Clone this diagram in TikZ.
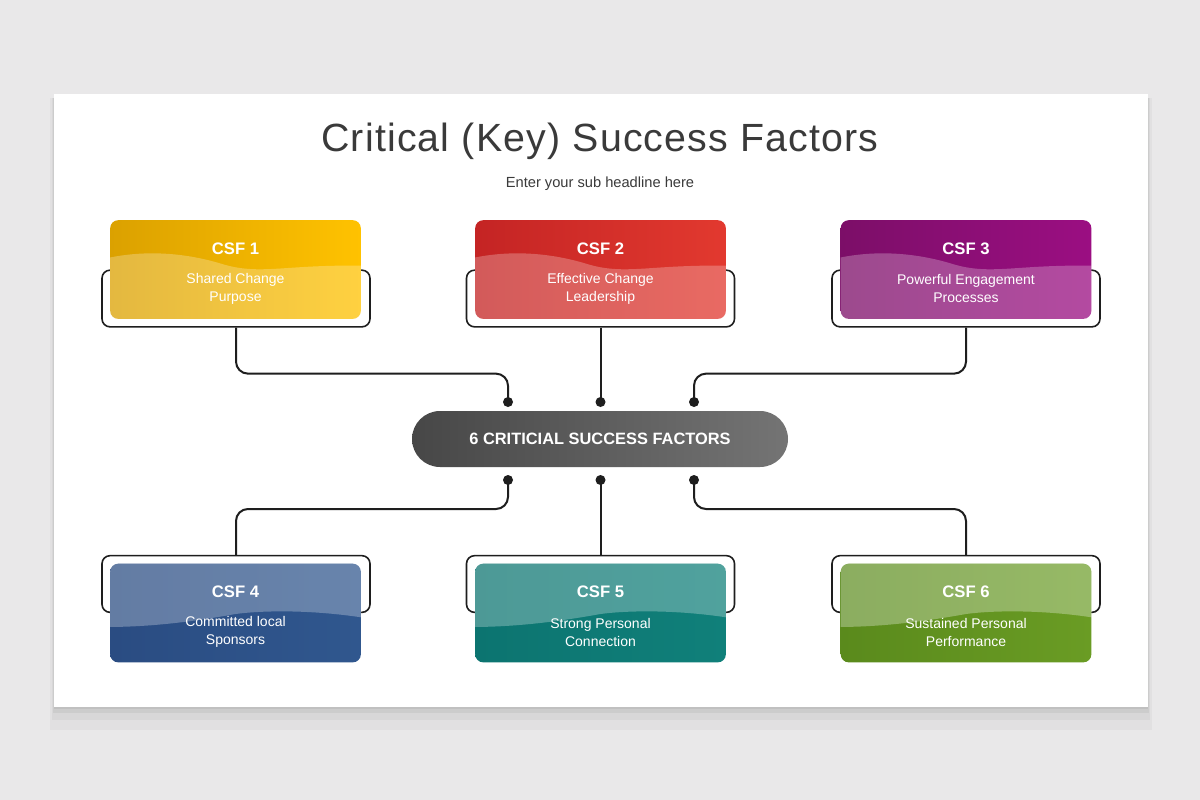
\documentclass[tikz,border=0pt]{standalone}
\usepackage{fontspec}
\setmainfont{Liberation Sans}
\usetikzlibrary{calc}

\definecolor{pagebg}{HTML}{E9E8E9}
\definecolor{ink}{HTML}{3A3A3A}
\definecolor{linkgray}{HTML}{1E1E1E}
\definecolor{gold1}{HTML}{DBA100}
\definecolor{gold2}{HTML}{FFC200}
\definecolor{red1}{HTML}{C42424}
\definecolor{red2}{HTML}{E2392F}
\definecolor{plum1}{HTML}{7C0E68}
\definecolor{plum2}{HTML}{9B0E82}
\definecolor{navy1}{HTML}{2A4C82}
\definecolor{navy2}{HTML}{30578E}
\definecolor{teal1}{HTML}{0C7470}
\definecolor{teal2}{HTML}{10807A}
\definecolor{olive1}{HTML}{5A8A1C}
\definecolor{olive2}{HTML}{6A9C24}
\definecolor{hub1}{HTML}{474747}
\definecolor{hub2}{HTML}{747474}

\tikzset{every picture/.style={line width=0.75pt},
  csfbox/.style={rectangle, rounded corners=6pt, minimum width=188pt, minimum height=74pt, inner sep=0pt},
  bracketbox/.style={draw=linkgray, line width=1.2pt, rounded corners=6pt, minimum width=201pt, minimum height=42.5pt, inner sep=0pt},
  csftitle/.style={text=white, font=\bfseries\fontsize{12.5}{15}\selectfont},
  csftext/.style={text=white, align=center, font=\fontsize{10.5}{13.5}\selectfont},
  hubpill/.style={rectangle, rounded corners=21pt, minimum width=282pt, minimum height=42pt, inner sep=0pt,
    left color=hub1, right color=hub2, text=white, font=\bfseries\fontsize{12.3}{15}\selectfont},
  pin/.style={circle, fill=linkgray, inner sep=0pt, minimum size=7.5pt},
  link/.style={draw=linkgray, line width=1.5pt, rounded corners=9pt},
  % light wave on the lower half (top row); pic y runs upward
  wavetop/.pic={
    \clip[rounded corners=6pt] (-125.5,-49.5) rectangle (125.5,49.5);
    \fill[white, fill opacity=#1] (-130,11) .. controls (-95,19) and (-55,18) .. (-15,6) .. controls (10,-2) and (30,0) .. (60,2) .. controls (90,4) and (110,4) .. (130,4) -- (130,-55) -- (-130,-55) -- cycle;
  },
  % light wave on the upper half (bottom row)
  wavebot/.pic={
    \clip[rounded corners=6pt] (-125.5,-49.5) rectangle (125.5,49.5);
    \fill[white, fill opacity=#1] (-130,-14) .. controls (-90,-14) and (-50,-10) .. (0,-1) .. controls (30,3) and (80,3) .. (130,-5) -- (130,55) -- (-130,55) -- cycle;
  }
}

\begin{document}
\begin{tikzpicture}[x=0.75pt,y=0.75pt,yscale=-1,xscale=1]
\useasboundingbox (0,0) rectangle (1200,800);

%Shape: Background
\fill[pagebg] (0,0) rectangle (1200,800);
%Shape: Slide shadow
\fill[black, opacity=0.03] (50,98) rectangle (1152,730);
\fill[black, opacity=0.04] (52,98) rectangle (1150,720);
\fill[black, opacity=0.05] (53,98) rectangle (1149,713);
\fill[black, opacity=0.06] (54,98) rectangle (1148,709);
%Shape: Slide
\fill[white] (54,94) rectangle (1148,707);

%Text: headline
\node[text=ink, font=\fontsize{29.5}{34}\selectfont\addfontfeatures{LetterSpace=3}] (head) at (600,141) {Critical (Key) Success Factors};
\node[text=ink, font=\fontsize{11}{13}\selectfont] (subhead) at (600,184) {Enter your sub headline here};

%Shape: Brackets
\node[bracketbox] (b1) at (236,298.5) {};
\node[bracketbox] (b2) at (600.5,298.5) {};
\node[bracketbox] (b3) at (966,298.5) {};
\node[bracketbox] (b4) at (236,584) {};
\node[bracketbox] (b5) at (600.5,584) {};
\node[bracketbox] (b6) at (966,584) {};

%Shape: CSF boxes, top row
\node[csfbox, left color=gold1, right color=gold2] (csf1) at (235.5,269.5) {};
\pic at (csf1.center) {wavetop=0.25};
\node[csfbox, left color=red1, right color=red2] (csf2) at (600.5,269.5) {};
\pic at (csf2.center) {wavetop=0.25};
\node[csfbox, left color=plum1, right color=plum2] (csf3) at (966,269.5) {};
\pic at (csf3.center) {wavetop=0.25};

%Shape: CSF boxes, bottom row
\node[csfbox, left color=navy1, right color=navy2] (csf4) at (235.5,613) {};
\pic at (csf4.center) {wavebot=0.27};
\node[csfbox, left color=teal1, right color=teal2] (csf5) at (600.5,613) {};
\pic at (csf5.center) {wavebot=0.27};
\node[csfbox, left color=olive1, right color=olive2] (csf6) at (966,613) {};
\pic at (csf6.center) {wavebot=0.3};

%Text: CSF labels
\node[csftitle] (t1) at ($(csf1.north)+(0,29)$) {CSF 1};
\node[csftext] (x1) at ($(csf1.north)+(0,69)$) {Shared Change\\Purpose};
\node[csftitle] (t2) at ($(csf2.north)+(0,29)$) {CSF 2};
\node[csftext] (x2) at ($(csf2.north)+(0,69)$) {Effective Change\\Leadership};
\node[csftitle] (t3) at ($(csf3.north)+(0,29)$) {CSF 3};
\node[csftext] (x3) at ($(csf3.north)+(0,69)$) {Powerful Engagement\\Processes};
\node[csftitle] (t4) at ($(csf4.north)+(0,29)$) {CSF 4};
\node[csftext] (x4) at ($(csf4.north)+(0,69)$) {Committed local\\Sponsors};
\node[csftitle] (t5) at ($(csf5.north)+(0,29)$) {CSF 5};
\node[csftext] (x5) at ($(csf5.north)+(0,69)$) {Strong Personal\\Connection};
\node[csftitle] (t6) at ($(csf6.north)+(0,29)$) {CSF 6};
\node[csftext] (x6) at ($(csf6.north)+(0,69)$) {Sustained Personal\\Performance};

%Shape: hub
\node[hubpill] (hub) at (600,439) {6 CRITICIAL SUCCESS FACTORS};

%Shape: pins
\node[pin] (d1) at (508,402) {};
\node[pin] (d2) at (600.5,402) {};
\node[pin] (d3) at (694,402) {};
\node[pin] (d4) at (508,480) {};
\node[pin] (d5) at (600.5,480) {};
\node[pin] (d6) at (694,480) {};

%Connectors
\draw[link] (b1.south) -- ++(0,46) -| (d1.center);
\draw[link] (b2.south) -- (d2.center);
\draw[link] (b3.south) -- ++(0,46) -| (d3.center);
\draw[link] (d4.center) -- ++(0,29) -| (b4.north);
\draw[link] (d5.center) -- (b5.north);
\draw[link] (d6.center) -- ++(0,29) -| (b6.north);
\end{tikzpicture}
\end{document}
